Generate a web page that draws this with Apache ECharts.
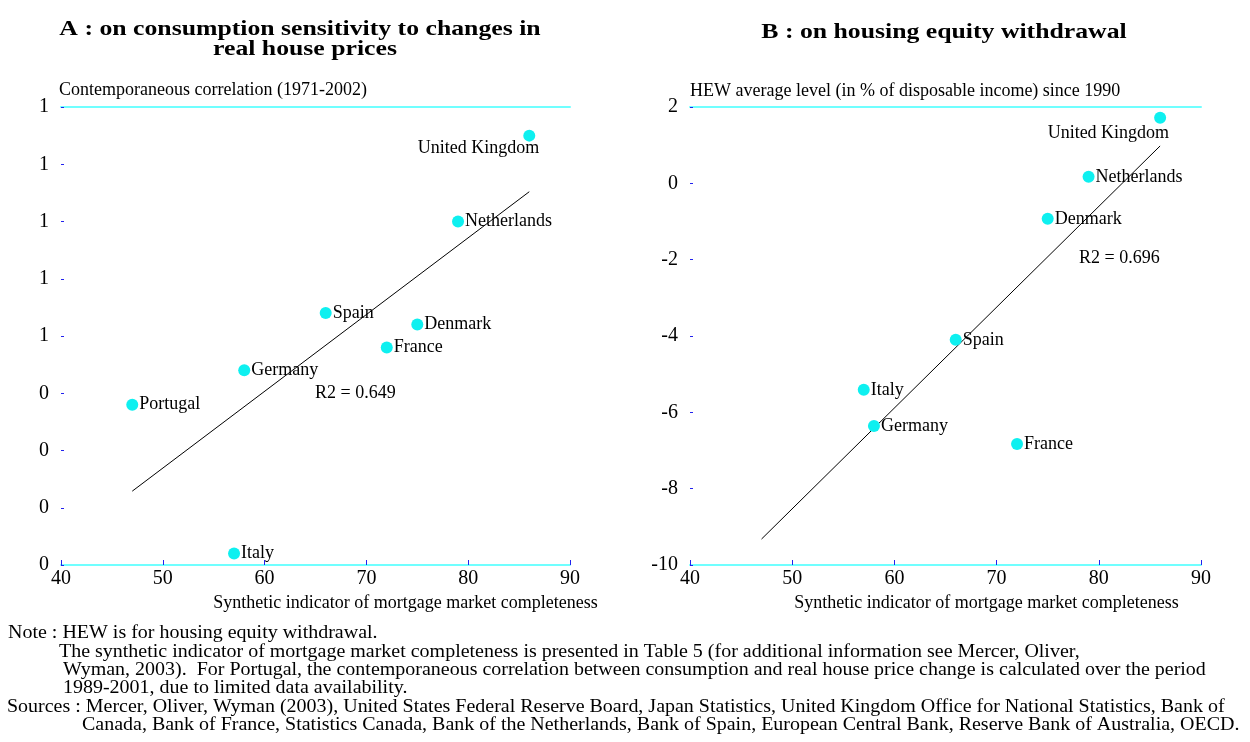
<!DOCTYPE html>
<html>
<head>
<meta charset="utf-8">
<script src="https://cdn.jsdelivr.net/npm/echarts@6/dist/echarts.min.js"></script>
<style>
  html, body { margin: 0; padding: 0; background: #fff; }
  #chart { width: 1250px; height: 742px; }
</style>
</head>
<body>
<div id="chart"></div>
<script>
// panel A: mortgage completeness vs consumption / house price correlation
const countriesA = ['United Kingdom', 'Netherlands', 'Spain', 'Denmark', 'France', 'Germany', 'Portugal', 'Italy'];
const mortgageA = [86, 79, 66, 75, 72, 58, 47, 57];
const correlationA = [0.85, 0.70, 0.54, 0.52, 0.48, 0.44, 0.38, 0.12];
const trendXA = [47, 86];
const trendYA = [0.229, 0.752];

// panel B: mortgage completeness vs HEW level
const countriesB = ['United Kingdom', 'Netherlands', 'Denmark', 'Spain', 'Italy', 'Germany', 'France'];
const mortgageB = [86, 79, 75, 66, 57, 58, 72];
const hewB = [1.72, 0.17, -0.93, -4.10, -5.41, -6.36, -6.83];
const trendXB = [47, 86];
const trendYB = [-9.32, 0.98];

const xTicks = [40, 50, 60, 70, 80, 90];

const noteLines = [
    'Note : HEW is for housing equity withdrawal.',
    'The synthetic indicator of mortgage market completeness is presented in Table 5 (for additional information see Mercer, Oliver,',
    'Wyman, 2003).  For Portugal, the contemporaneous correlation between consumption and real house price change is calculated over the period',
    '1989-2001, due to limited data availability.',
    'Sources : Mercer, Oliver, Wyman (2003), United States Federal Reserve Board, Japan Statistics, United Kingdom Office for National Statistics, Bank of',
    'Canada, Bank of France, Statistics Canada, Bank of the Netherlands, Bank of Spain, European Central Bank, Reserve Bank of Australia, OECD.'
];

const FONT = '"Liberation Serif", "Times New Roman", serif';
const CYAN = '#0ef0f0';
const LINE_CYAN = '#70ffff';
const BLUE = '#2222ee';

const chart = echarts.init(document.getElementById('chart'));

// text drawn a little wider than the font, as in the original
function txt(s, x, y, size, opts) {
    opts = opts || {};
    return {
        type: 'text', x: x, y: y, scaleX: opts.scaleX || 1, scaleY: 1,
        style: {
            text: s, fill: '#000',
            font: (opts.bold ? 'bold ' : '') + size + 'px ' + FONT,
            textAlign: opts.align || 'left', textVerticalAlign: 'middle'
        }
    };
}

function xAxisBottom(gridIndex, shift) {
    return {
        type: 'value', gridIndex: gridIndex, position: 'bottom',
        min: xTicks[0], max: xTicks[xTicks.length - 1], interval: 10,
        name: 'Synthetic indicator of mortgage market completeness',
        nameLocation: 'middle', nameGap: 28,
        nameTextStyle: { fontFamily: FONT, fontSize: 18, color: '#000', padding: [0, 0, 0, shift * 2] },
        axisLine: { show: true, onZero: false, lineStyle: { color: LINE_CYAN, width: 2 } },
        axisTick: { show: true, inside: true, length: 5, lineStyle: { color: BLUE } },
        axisLabel: { fontFamily: FONT, fontSize: 20, color: '#000', margin: 4 },
        splitLine: { show: false }
    };
}

function xAxisTop(gridIndex) {
    return {
        type: 'value', gridIndex: gridIndex, position: 'top',
        min: xTicks[0], max: xTicks[xTicks.length - 1],
        axisLine: { show: true, onZero: false, lineStyle: { color: LINE_CYAN, width: 2 } },
        axisTick: { show: false }, axisLabel: { show: false }, splitLine: { show: false }
    };
}

function yAxis(gridIndex, min, max, interval, fmt) {
    return {
        type: 'value', gridIndex: gridIndex, min: min, max: max, interval: interval,
        axisLine: { show: false },
        axisTick: { show: true, inside: true, length: 3, lineStyle: { color: BLUE } },
        axisLabel: { fontFamily: FONT, fontSize: 20, color: '#000', margin: 12, formatter: fmt },
        splitLine: { show: false }
    };
}

function points(names, xs, ys, ukPos) {
    return names.map((n, i) => {
        const item = { name: n, value: [xs[i], ys[i]] };
        if (n === 'United Kingdom') {
            item.label = { position: ukPos, align: 'right', verticalAlign: 'middle' };
        }
        return item;
    });
}

function scatter(idx, data) {
    return {
        type: 'scatter', xAxisIndex: idx * 2, yAxisIndex: idx,
        symbolSize: 12, itemStyle: { color: CYAN, opacity: 1 },
        label: { show: true, position: 'right', distance: 1, formatter: '{b}',
            fontFamily: FONT, fontSize: 18, color: '#000' },
        data: data, z: 3
    };
}

function trend(idx, xs, ys) {
    return {
        type: 'line', xAxisIndex: idx * 2, yAxisIndex: idx,
        symbol: 'none', silent: true,
        lineStyle: { color: '#000', width: 1 },
        data: xs.map((x, i) => [x, ys[i]]), z: 2
    };
}

const noteX = [8, 59, 63, 63, 7, 82];
const noteY = [633, 652, 670, 688, 707, 725];

const option = {
    animation: false,
    backgroundColor: '#fff',
    grid: [
        { left: 61, top: 107, width: 509, height: 458 },
        { left: 690, top: 107, width: 511, height: 458 }
    ],
    xAxis: [xAxisBottom(0, 90), xAxisTop(0), xAxisBottom(1, 41), xAxisTop(1)],
    yAxis: [
        yAxis(0, 0.1, 0.9, 0.1, v => String(Math.round(v))),
        yAxis(1, -10, 2, 2, v => String(v))
    ],
    series: [
        scatter(0, points(countriesA, mortgageA, correlationA, [16, 19])),
        trend(0, trendXA, trendYA),
        scatter(1, points(countriesB, mortgageB, hewB, [15, 22])),
        trend(1, trendXB, trendYB)
    ],
    graphic: [
        txt('A : on consumption sensitivity to changes in', 300, 29, 22, { bold: true, align: 'center', scaleX: 1.17 }),
        txt('real house prices', 305, 49, 22, { bold: true, align: 'center', scaleX: 1.17 }),
        txt('B : on housing equity withdrawal', 944, 32, 22, { bold: true, align: 'center', scaleX: 1.17 }),
        txt('Contemporaneous correlation (1971-2002)', 59, 90, 18),
        txt('HEW average level (in % of disposable income) since 1990', 690, 91, 18),
        txt('R2 = 0.649', 315, 393, 18),
        txt('R2 = 0.696', 1079, 258, 18)
    ].concat(noteLines.map((s, i) => txt(s, noteX[i], noteY[i], 18, { scaleX: 1.11 })))
};

chart.setOption(option);
</script>
</body>
</html>
